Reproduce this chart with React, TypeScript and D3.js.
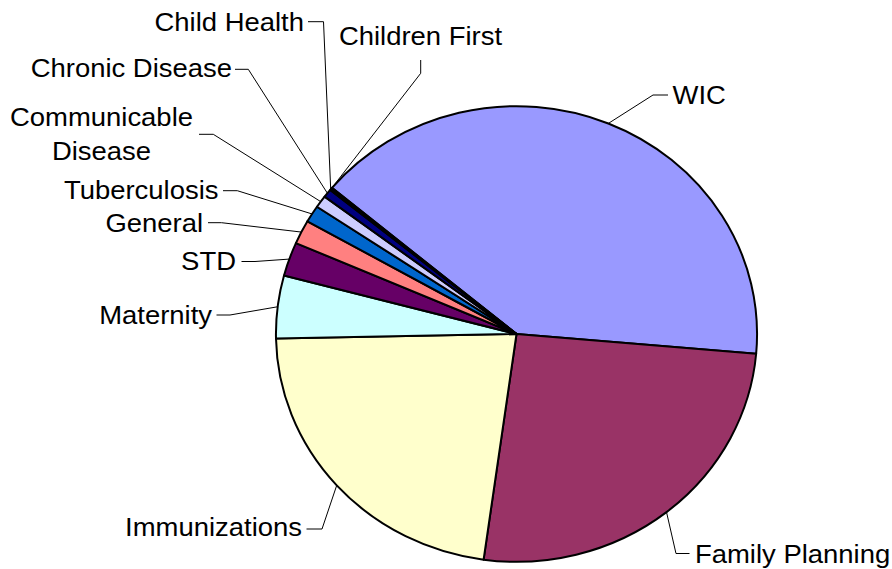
import React from "react";
import * as d3 from "d3";

// Data
const categories = [
  "WIC",
  "Family Planning",
  "Immunizations",
  "Maternity",
  "STD",
  "General",
  "Tuberculosis",
  "Communicable Disease",
  "Chronic Disease",
  "Child Health",
  "Children First",
];
const values = [40.3, 25.8, 22.5, 4.45, 2.4, 1.7, 1.2, 0.87, 0.6, 0.1, 0.08];
const colors = [
  "#9999FF", "#993366", "#FFFFCC", "#CCFFFF", "#660066", "#FF8080",
  "#0066CC", "#CCCCFF", "#000080", "#FF00FF", "#FFFF00",
];

// Layout (reference pixel coordinates for labels)
const W = 892;
const H = 569;
const SX = 1.056; // horizontal stretch of the original picture
const CX = 516.5;
const CY = 334;
const R = 227.8;
const START = (-50.1 * Math.PI) / 180;
const FS = 26;

type LL = {
  elbow: [number, number];
  end: [number, number];
  tx: number;
  ty: number[];
  anchor: "start" | "end" | "middle";
  lines: string[];
};

const labelLayout: LL[] = [
  { elbow: [653, 95], end: [668, 95], tx: 672.5, ty: [104], anchor: "start", lines: ["WIC"] },
  { elbow: [676, 553.5], end: [689.5, 553.5], tx: 695, ty: [563.3], anchor: "start", lines: ["Family Planning"] },
  { elbow: [322, 529], end: [306.5, 529], tx: 302, ty: [536], anchor: "end", lines: ["Immunizations"] },
  { elbow: [230, 315], end: [216.5, 315], tx: 212, ty: [324.5], anchor: "end", lines: ["Maternity"] },
  { elbow: [255, 261.5], end: [241.5, 261.5], tx: 236, ty: [270], anchor: "end", lines: ["STD"] },
  { elbow: [221.5, 222.7], end: [208, 222.7], tx: 203, ty: [231.7], anchor: "end", lines: ["General"] },
  { elbow: [237.3, 190.7], end: [223, 190.7], tx: 218.5, ty: [199.3], anchor: "end", lines: ["Tuberculosis"] },
  { elbow: [213.3, 134.3], end: [199, 134.3], tx: 101.5, ty: [126.5, 160], anchor: "middle", lines: ["Communicable", "Disease"] },
  { elbow: [248.3, 69.3], end: [235, 69.3], tx: 232, ty: [77.5], anchor: "end", lines: ["Chronic Disease"] },
  { elbow: [323.5, 21.7], end: [308, 21.7], tx: 304, ty: [31], anchor: "end", lines: ["Child Health"] },
  { elbow: [420.7, 73.3], end: [420.7, 60], tx: 420.5, ty: [45], anchor: "middle", lines: ["Children First"] },
];

export default function App() {
  const data = categories.map((c, i) => ({ name: c, value: values[i], color: colors[i] }));
  const pie = d3
    .pie<{ name: string; value: number; color: string }>()
    .sort(null)
    .value((d) => d.value)
    .startAngle(START)
    .endAngle(START + 2 * Math.PI);
  const arcs = pie(data);
  const arc = d3
    .arc<d3.PieArcDatum<{ name: string; value: number; color: string }>>()
    .innerRadius(0)
    .outerRadius(R);

  const cxu = CX / SX;

  return (
    <svg
      width={W}
      height={H}
      style={{ position: "absolute", left: 0, top: 0, background: "#fff" }}
    >
      <g transform={`scale(${SX},1)`}>
        <g transform={`translate(${cxu},${CY})`}>
          {arcs.map((a, i) => (
            <path
              key={i}
              d={arc(a) || ""}
              fill={a.data.color}
              stroke="#000"
              strokeWidth={2}
              strokeLinejoin="round"
              vectorEffect="non-scaling-stroke"
            />
          ))}
        </g>
        {arcs.map((a, i) => {
          const mid = (a.startAngle + a.endAngle) / 2;
          const rx = cxu + R * Math.sin(mid);
          const ry = CY - R * Math.cos(mid);
          const L = labelLayout[i];
          const pts = `${rx},${ry} ${L.elbow[0] / SX},${L.elbow[1]} ${L.end[0] / SX},${L.end[1]}`;
          return (
            <g key={"l" + i}>
              <polyline
                points={pts}
                fill="none"
                stroke="#000"
                strokeWidth={1}
                vectorEffect="non-scaling-stroke"
              />
              {L.lines.map((t, j) => (
                <text
                  key={j}
                  x={L.tx / SX}
                  y={L.ty[j]}
                  textAnchor={L.anchor}
                  fontFamily="'Liberation Sans', Arial, sans-serif"
                  fontSize={FS}
                  fill="#000"
                >
                  {t}
                </text>
              ))}
            </g>
          );
        })}
      </g>
    </svg>
  );
}
